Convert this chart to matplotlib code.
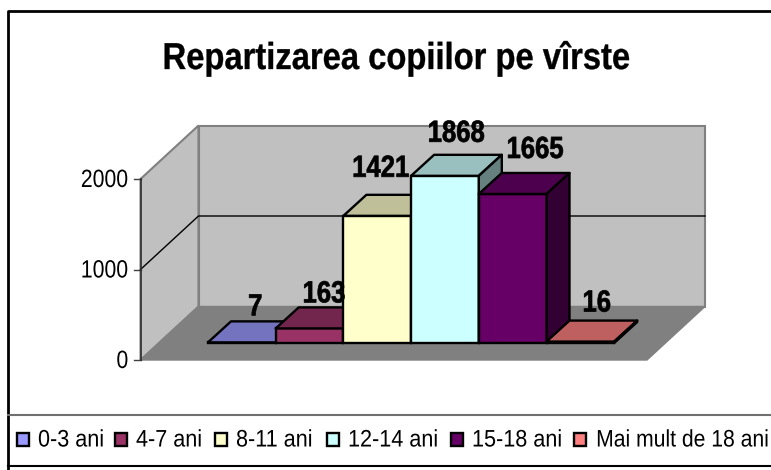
# plot.py
# 3D looking bar chart, children by age group
import matplotlib
matplotlib.use("Agg")
import matplotlib.pyplot as plt
from matplotlib.patches import Polygon, Rectangle
from matplotlib.patheffects import AbstractPathEffect
from matplotlib.transforms import Affine2D
from matplotlib.colors import to_rgb

categories = ['0-3 ani', '4-7 ani', '8-11 ani', '12-14 ani', '15-18 ani', 'Mai mult de 18 ani']
values = [7, 163, 1421, 1868, 1665, 16]
colors = ['#9999FF', '#993366', '#FFFFCC', '#CCFFFF', '#660066', '#FF8080']
wall_ticks = [0, 1000, 2000]
title = 'Repartizarea copiilor pe vîrste'

# label nudges in pixels, the original places them by hand
label_dx = [2, 3, -8, 0, 11, 5]
label_dy = [6, 5, 18, 13, 15, 9]
legend_x = [38, 136, 236, 348, 472, 595]

W, H = 771, 470
PX_X = 67.7      # pixels per category
PX_Y = 0.0895    # pixels per value unit
X0, Y0 = 208, 343   # where the first bar starts

FONT = ['Liberation Sans', 'DejaVu Sans']


class Squeeze(AbstractPathEffect):
    # the original font is a narrow Arial, squeeze the glyphs sideways
    def __init__(self, sx, ha='left', stroke=0):
        super().__init__()
        self.sx = sx
        self.ha = {'left': 0, 'center': 0.5, 'right': 1}[ha]
        self.stroke = stroke

    def draw_path(self, renderer, gc, tpath, affine, rgbFace=None):
        w = tpath.get_extents().x1
        tr = Affine2D().scale(self.sx, 1).translate((1 - self.sx) * w * self.ha, 0) + affine
        gc0 = renderer.new_gc()
        gc0.copy_properties(gc)
        gc0.set_linewidth(self.stroke)
        gc0.set_foreground('black')
        renderer.draw_path(gc0, tpath, tr, rgbFace)
        gc0.restore()


def shade(c, f):
    return tuple(v * f for v in to_rgb(c))


def xpx(p):
    return (p - X0) / PX_X


def ypx(p):
    return (Y0 - p) / PX_Y


fig = plt.figure(figsize=(W / 100, H / 100), dpi=100, facecolor='white')
ax = fig.add_axes([0, 0, 1, 1])
ax.set_xlim(xpx(0), xpx(W))
ax.set_ylim(ypx(H), ypx(0))
ax.axis('off')

# walls and floor
fx0, fx1 = xpx(140.5), xpx(647)
wdx = xpx(198.5) - xpx(140.5)
wdy = ypx(306.5) - ypx(360)
base = ypx(360)
top = ypx(179)
ax.add_patch(Polygon([(fx0, base), (fx0 + wdx, base + wdy), (fx0 + wdx, top + wdy), (fx0, top)],
                     fc='#C0C0C0', ec='#808080', lw=1.5, zorder=1))
ax.add_patch(Polygon([(fx0 + wdx, base + wdy), (fx1 + wdx, base + wdy), (fx1 + wdx, top + wdy), (fx0 + wdx, top + wdy)],
                     fc='#C0C0C0', ec='#808080', lw=1.5, zorder=1))
ax.add_patch(Polygon([(fx0, base), (fx1, base), (fx1 + wdx, base + wdy), (fx0 + wdx, base + wdy)],
                     fc='#808080', ec='#808080', lw=1, zorder=1))

# gridline and ticks
for t in wall_ticks:
    y = base + (top - base) * t / wall_ticks[-1]
    if 0 < t < wall_ticks[-1]:
        ax.plot([fx0, fx0 + wdx, fx1 + wdx], [y, y + wdy, y + wdy], color='black', lw=1, zorder=2)
    ax.plot([xpx(134), fx0], [y, y], color='#404040', lw=1, zorder=2)
    ax.text(xpx(128.5), y - 8 / PX_Y, str(t), ha='right', va='baseline', fontsize=18, family=FONT,
            path_effects=[Squeeze(0.85, 'right')])
ax.plot([fx0, fx0], [base, top], color='#303030', lw=1.2, zorder=2)

# bars
ddx = 23 / PX_X
ddy = 21 / PX_Y
for i, (v, c) in enumerate(zip(values, colors)):
    z = 3 + i
    ax.bar(i, v, width=1, align='edge', color=c, edgecolor='black', linewidth=1.7, zorder=z)
    ax.add_patch(Polygon([(i, v), (i + 1, v), (i + 1 + ddx, v + ddy), (i + ddx, v + ddy)],
                         fc=shade(c, 0.75), ec='black', lw=1.7, joinstyle='round', zorder=z))
    ax.add_patch(Polygon([(i + 1, 0), (i + 1 + ddx, ddy), (i + 1 + ddx, v + ddy), (i + 1, v)],
                         fc=shade(c, 0.5), ec='black', lw=1.7, joinstyle='round', zorder=z))
    ax.annotate(str(v), (i + 0.5 + ddx / 2, v + ddy), xytext=(label_dx[i], label_dy[i]),
                textcoords='offset pixels', ha='center', va='baseline', fontsize=22,
                fontweight='bold', family=FONT, zorder=20,
                path_effects=[Squeeze(0.84, 'center', stroke=0.5)])

ax.text(xpx(396.5), ypx(69), title, ha='center', va='baseline', fontsize=27,
        fontweight='bold', family=FONT, path_effects=[Squeeze(0.873, 'center', stroke=0.25)])

# chart frame and legend strip
ax.plot([xpx(W), xpx(8), xpx(8)], [ypx(10.7), ypx(10.7), ypx(H)], color='black', lw=2, zorder=30)
ax.plot([xpx(8), xpx(W)], [ypx(415), ypx(415)], color='#707070', lw=1.5, zorder=30)
ax.plot([xpx(8), xpx(W)], [ypx(466), ypx(466)], color='black', lw=1.5, zorder=30)

# legend by hand, the squeezed labels would upset ax.legend spacing
for tx, name, c in zip(legend_x, categories, colors):
    ax.add_patch(Rectangle((xpx(tx - 21), ypx(446)), 12 / PX_X, 13 / PX_Y,
                           fc=c, ec='black', lw=1.7, zorder=31))
    if name == categories[-1]:
        # last one runs to the picture edge, anchor on its right end
        ax.text(xpx(769), ypx(446.5), name, ha='right', va='baseline', fontsize=17.2, family=FONT,
                zorder=31, path_effects=[Squeeze(0.885, 'right')])
    else:
        ax.text(xpx(tx), ypx(446.5), name, ha='left', va='baseline', fontsize=17.2, family=FONT,
                zorder=31, path_effects=[Squeeze(0.905, 'left')])

fig.savefig('out.png', dpi=100)
